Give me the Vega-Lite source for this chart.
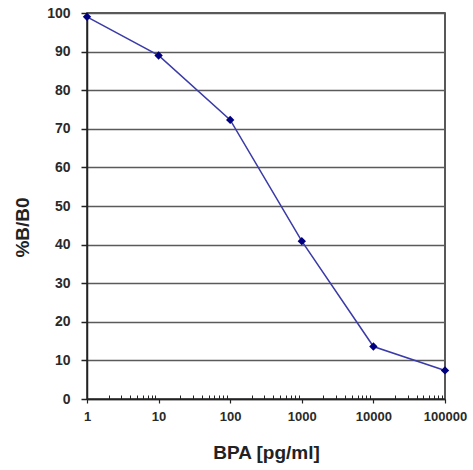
{
  "$schema": "https://vega.github.io/schema/vega-lite/v6.json",
  "autosize": "none",
  "width": 358,
  "height": 386,
  "padding": {"left": 87, "top": 13, "right": 28, "bottom": 71},
  "background": "white",
  "config": {
    "view": {"stroke": "#222", "strokeWidth": 1.5},
    "font": "Liberation Sans"
  },
  "data": {"values": [
    {"conc": 1, "b": 99},
    {"conc": 10, "b": 89},
    {"conc": 100, "b": 72.3},
    {"conc": 1000, "b": 40.9},
    {"conc": 10000, "b": 13.6},
    {"conc": 100000, "b": 7.4}
  ]},
  "encoding": {
    "y": {"field": "b", "type": "quantitative",
      "scale": {"domain": [0, 100], "nice": false},
      "axis": {"values": [0, 10, 20, 30, 40, 50, 60, 70, 80, 90, 100], "tickCount": 11, "labelOverlap": false, "grid": true, "gridColor": "#5a5a5a", "gridWidth": 1.6,
        "domainColor": "#222", "domainWidth": 1.5, "tickColor": "#222", "tickSize": 6, "tickWidth": 1.5,
        "labelFont": "Liberation Sans", "labelFontWeight": "bold", "labelFontSize": 14, "labelColor": "#2a2a2a", "labelPadding": 11,
        "title": "%B/B0", "titleFont": "Liberation Sans", "titleFontSize": 19, "titleFontWeight": "bold", "titleColor": "#222", "titlePadding": 14, "titleY": 214}}
  },
  "layer": [
    {
      "mark": {"type": "line", "color": "#3a3aa8", "strokeWidth": 1.5},
      "encoding": {
        "x": {"field": "conc", "type": "quantitative",
          "scale": {"type": "log", "domain": [1, 100000], "nice": false},
          "axis": {"values": [1, 10, 100, 1000, 10000, 100000], "format": "d", "grid": false,
            "domainColor": "#222", "domainWidth": 1.5, "tickColor": "#222", "tickSize": 4, "tickWidth": 1.2,
            "labelFont": "Liberation Sans", "labelFontWeight": "bold", "labelFontSize": 13, "labelColor": "#2a2a2a", "labelPadding": 7,
            "labelFlush": false,
            "title": "BPA [pg/ml]", "titleFont": "Liberation Sans", "titleFontSize": 19, "titleFontWeight": "bold", "titleColor": "#222", "titlePadding": 20}}
      }
    },
    {
      "mark": {"type": "point", "shape": "diamond", "filled": true, "color": "#000080", "size": 70, "opacity": 1},
      "encoding": {
        "x": {"field": "conc", "type": "quantitative",
          "axis": {"values": [2,3,4,5,6,7,8,9,20,30,40,50,60,70,80,90,200,300,400,500,600,700,800,900,2000,3000,4000,5000,6000,7000,8000,9000,20000,30000,40000,50000,60000,70000,80000,90000],
            "labels": false, "domain": false, "grid": false, "tickSize": -4, "tickColor": "#222", "tickWidth": 1, "title": null, "orient": "bottom"}}
      }
    }
  ],
  "resolve": {"axis": {"x": "independent"}}
}
